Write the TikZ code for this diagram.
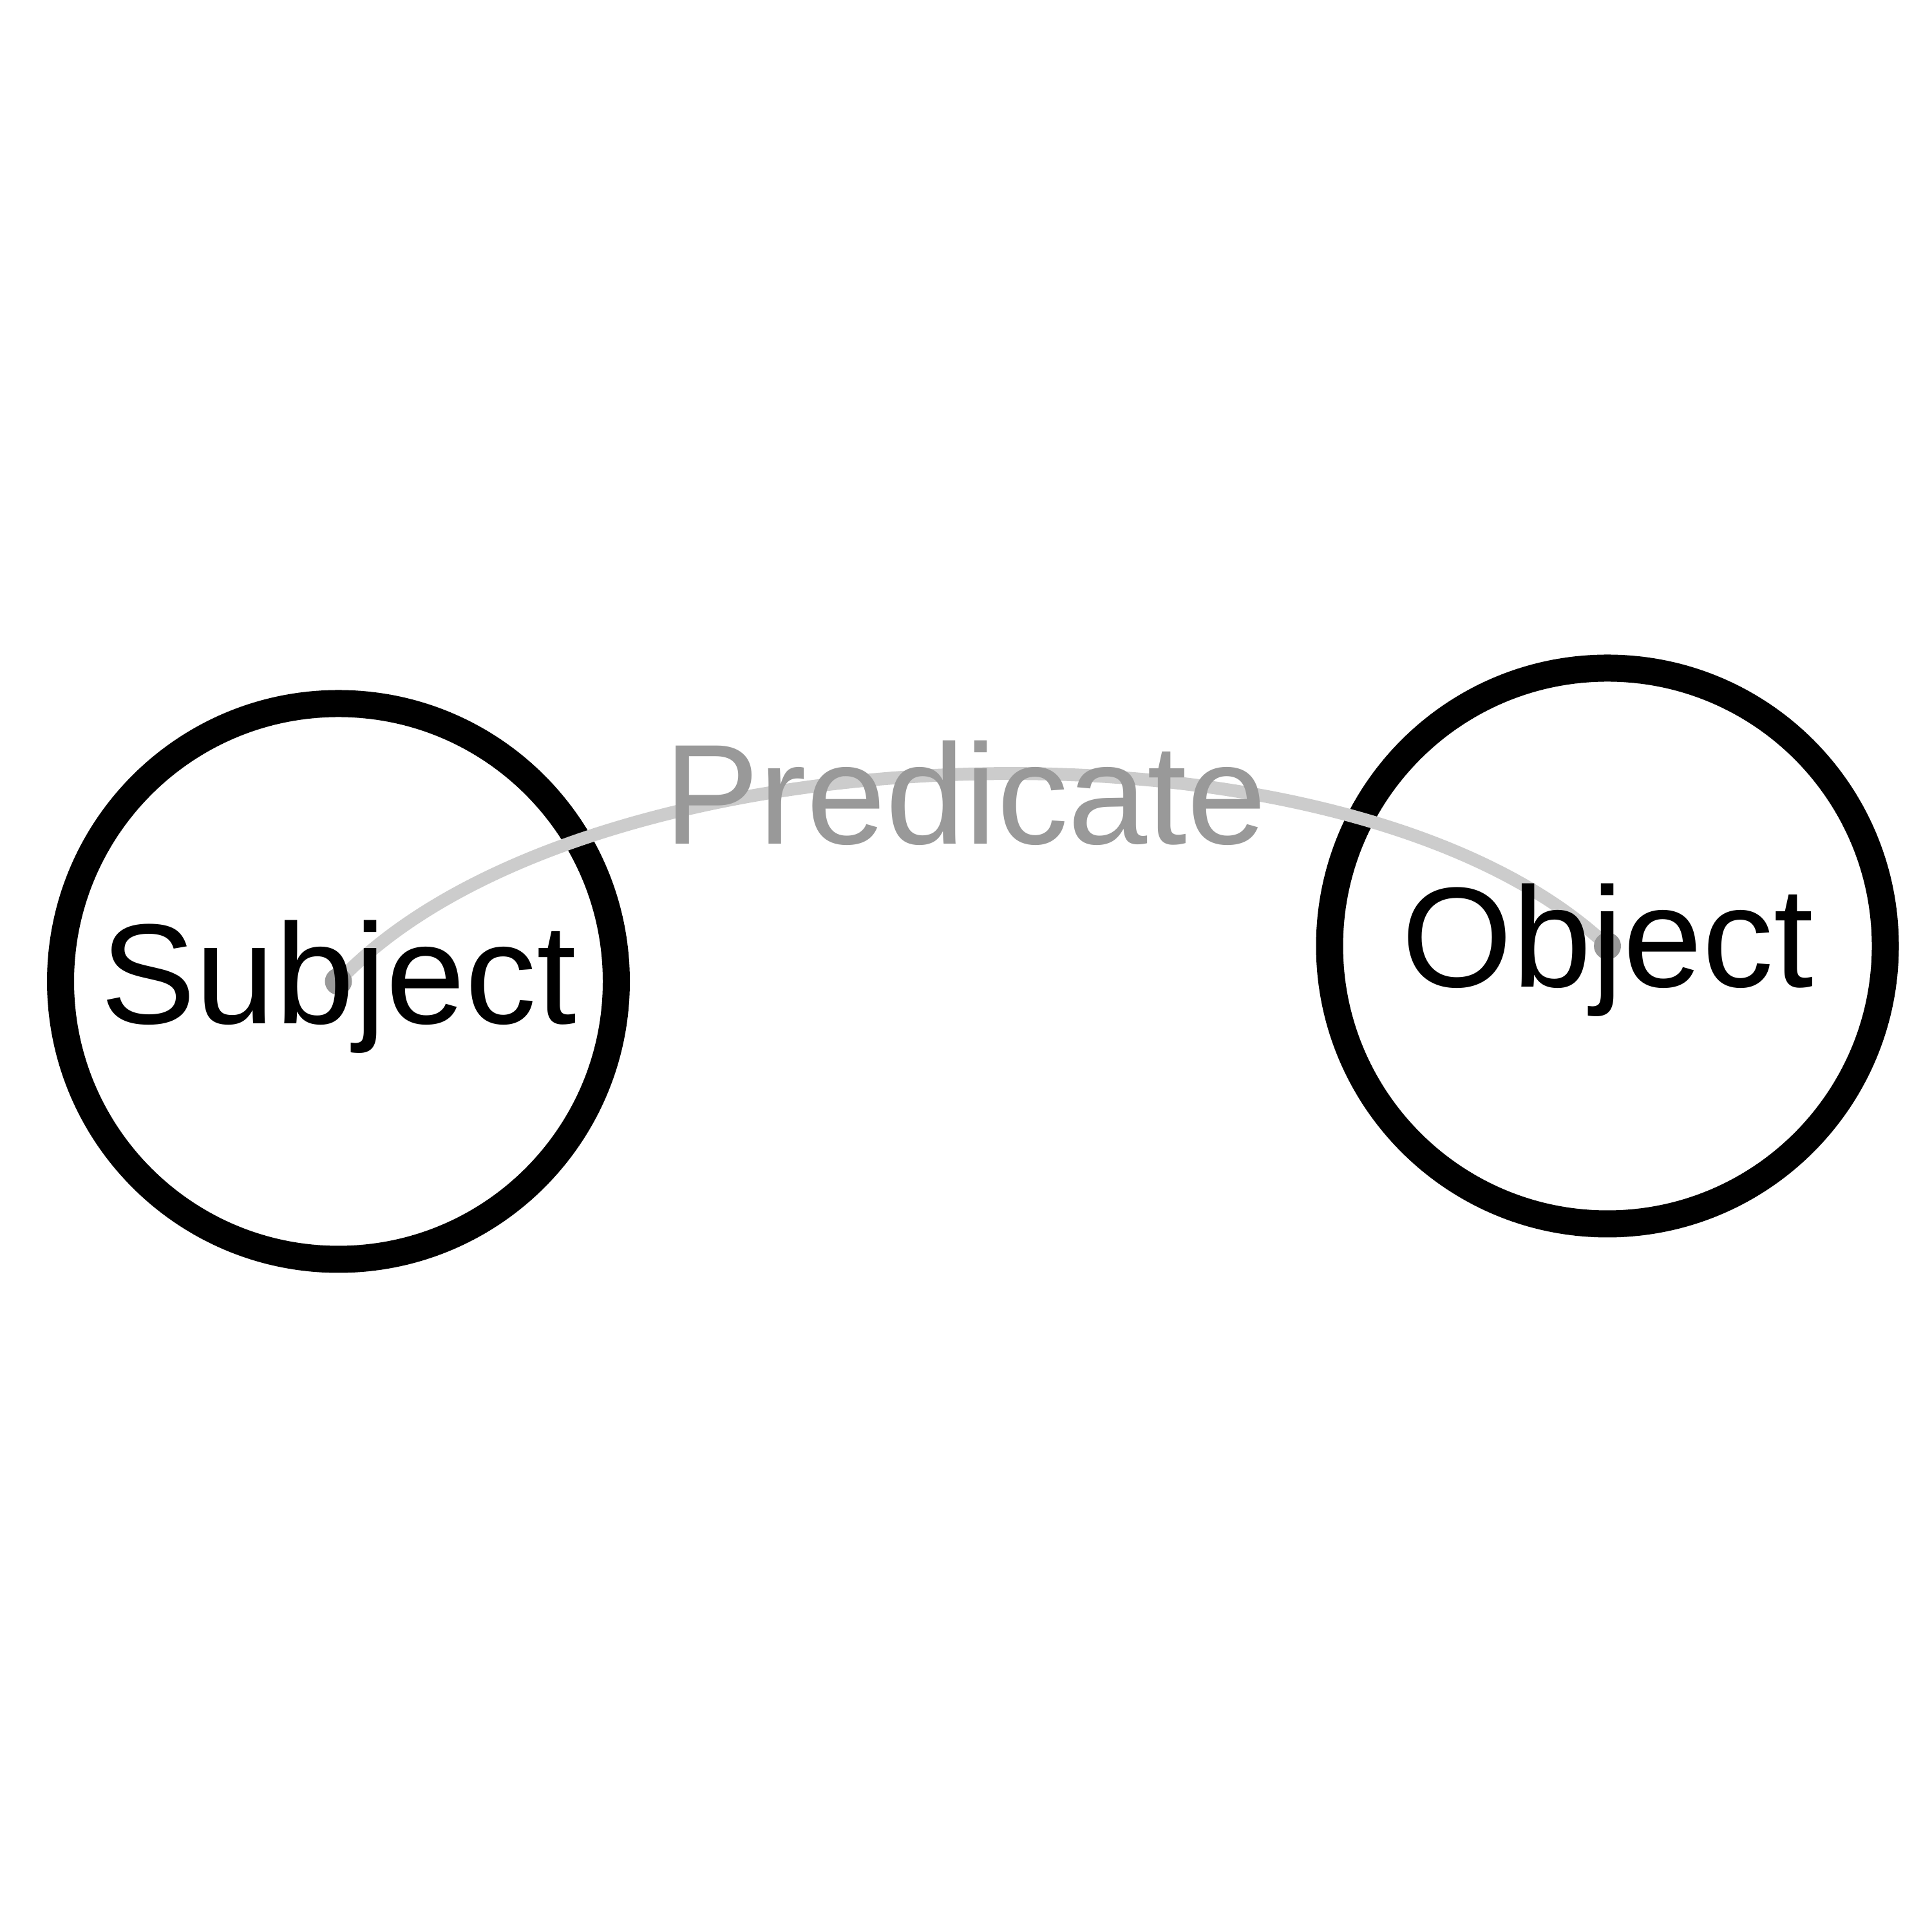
\documentclass[tikz,border=0pt]{standalone}
\usepackage{fontspec}
\setmainfont{Liberation Sans}
\usetikzlibrary{positioning}
\definecolor{relgray}{HTML}{CCCCCC}
\definecolor{predgray}{HTML}{999999}

\begin{document}
\begin{tikzpicture}[
    entity/.style={
        circle, draw,
        line width=4.2mm,
        fill=white,
        minimum size=86.3mm,
        inner sep=0pt
    },
    term/.style={
        font=\fontsize{63}{75}\selectfont,
        inner sep=0pt
    },
    relation/.style={
        draw=relgray, line width=2mm
    },
    predicate/.style={
        term, text=predgray
    },
    endpoint/.style={
        circle, fill=predgray,
        minimum size=4.2mm, inner sep=0pt
    }
]
\useasboundingbox (0,0) rectangle (30,30);
\node[entity] (s) at (5.255,14.76) {};
\node[entity] (o) at (24.96,15.31) {};
\draw[relation] (s.center) to[bend left=45, looseness=0.72] (o.center);
\node[endpoint] (sd) at (s.center) {};
\node[endpoint] (od) at (o.center) {};
\node[term] (st) at ([yshift=-0.8mm]s.center) {Subject};
\node[term] (ot) at ([yshift=-0.6mm]o.center) {Object};
\node[predicate] (p) at (14.99,17.69) {Predicate};
\end{tikzpicture}
\end{document}
